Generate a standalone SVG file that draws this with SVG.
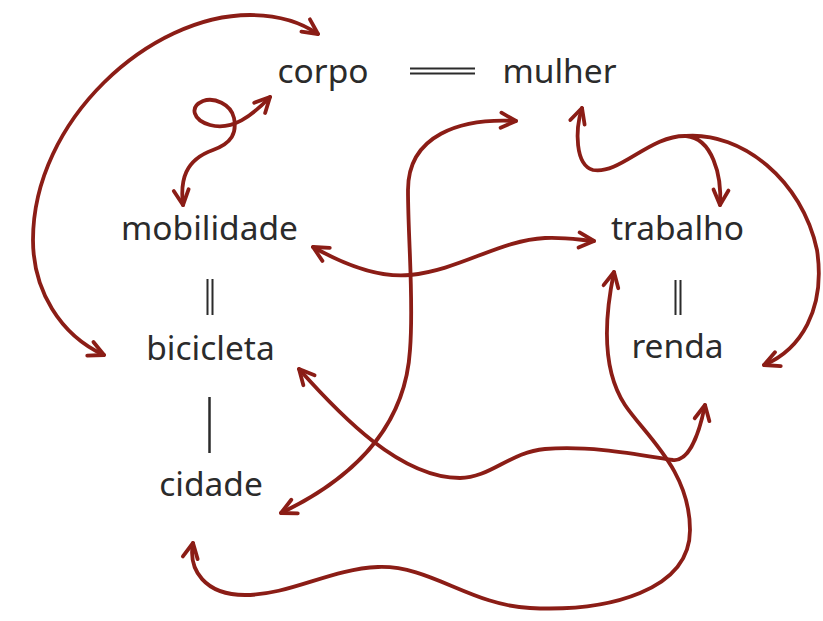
<svg xmlns="http://www.w3.org/2000/svg" width="823" height="621" viewBox="0 0 823 621">
<style>
.lbl{font-family:"Noto Sans","Open Sans","DejaVu Sans",sans-serif;font-size:33.5px;fill:#2b2b2b;text-anchor:middle}
.sep{stroke:#2b2b2b;stroke-width:2;fill:none}
.edge{stroke:#8b1d16;stroke-width:3.8;fill:none;stroke-linecap:round;stroke-linejoin:round;marker-start:url(#ah);marker-end:url(#ah)}
.edge1{stroke:#8b1d16;stroke-width:3.8;fill:none;stroke-linecap:round;stroke-linejoin:round}
</style>
<defs>
<marker id="ah" markerUnits="userSpaceOnUse" markerWidth="30" markerHeight="30" refX="0" refY="0" viewBox="-20 -15 30 30" orient="auto-start-reverse" overflow="visible">
<path d="M -15 -7.5 L 0 0 L -15 7.5" fill="none" stroke="#8b1d16" stroke-width="3.8" stroke-linecap="round" stroke-linejoin="round"/>
</marker>
</defs>
<rect width="823" height="621" fill="#ffffff"/>
<g id="connectors">
<path class="edge" d="M 104 355 C 60 335, 33 290, 33 240 C 33 120, 150 15, 250 15 C 285 15, 305 25, 318 34"/>
<path class="edge" d="M 183 205 C 180 180, 185 160, 213 150 C 232 143, 237 133, 234 118 C 231 104, 214 97, 203 101 C 189 107, 193 120, 210 125 C 232 131, 252 116, 270 97"/>
<path class="edge" d="M 516 121 C 460 118, 408 135, 408 190 C 408 240, 414 300, 410 350 C 405 430, 350 480, 281 513"/>
<path class="edge" d="M 313 247 C 345 265, 380 278, 410 275 C 460 270, 500 240, 545 238 C 565 237, 580 240, 594 241"/>
<path class="edge" d="M 299 369 C 340 415, 400 478, 460 478 C 490 478, 510 452, 545 449 C 590 445, 640 455, 673 460 C 690 462, 700 430, 705 405"/>
<path class="edge" d="M 614 272 C 604 320, 602 370, 625 405 C 645 435, 690 470, 690 530 C 690 590, 610 612, 530 608 C 470 605, 430 565, 378 567 C 330 569, 290 595, 245 595 C 205 595, 188 570, 193 543"/>
<path class="edge" d="M 582 108 C 575 130, 575 165, 593 170 C 620 175, 650 135, 686 136 C 712 138, 722 175, 720 205"/>
<path class="edge1" d="M 686 136 C 742 132, 802 180, 817 250 C 826 310, 800 350, 764 365" style="marker-end:url(#ah)"/>
</g>
<g id="links">
<path class="sep" d="M 410 68.5 H 475 M 410 73.5 H 475"/>
<path class="sep" d="M 207.5 279 V 315 M 212.5 279 V 315"/>
<path class="sep" d="M 675.5 280 V 315 M 680.5 280 V 315"/>
<path class="sep" d="M 209.5 397 V 453" style="stroke-width:2.5"/>
</g>
<g id="corpo"><text class="lbl" x="323" y="83">corpo</text></g>
<g id="mulher"><text class="lbl" x="559.5" y="83">mulher</text></g>
<g id="mobilidade"><text class="lbl" x="209.5" y="240">mobilidade</text></g>
<g id="bicicleta"><text class="lbl" x="210.5" y="360">bicicleta</text></g>
<g id="cidade"><text class="lbl" x="211" y="496">cidade</text></g>
<g id="trabalho"><text class="lbl" x="677.5" y="240">trabalho</text></g>
<g id="renda"><text class="lbl" x="677.5" y="358">renda</text></g>
</svg>
